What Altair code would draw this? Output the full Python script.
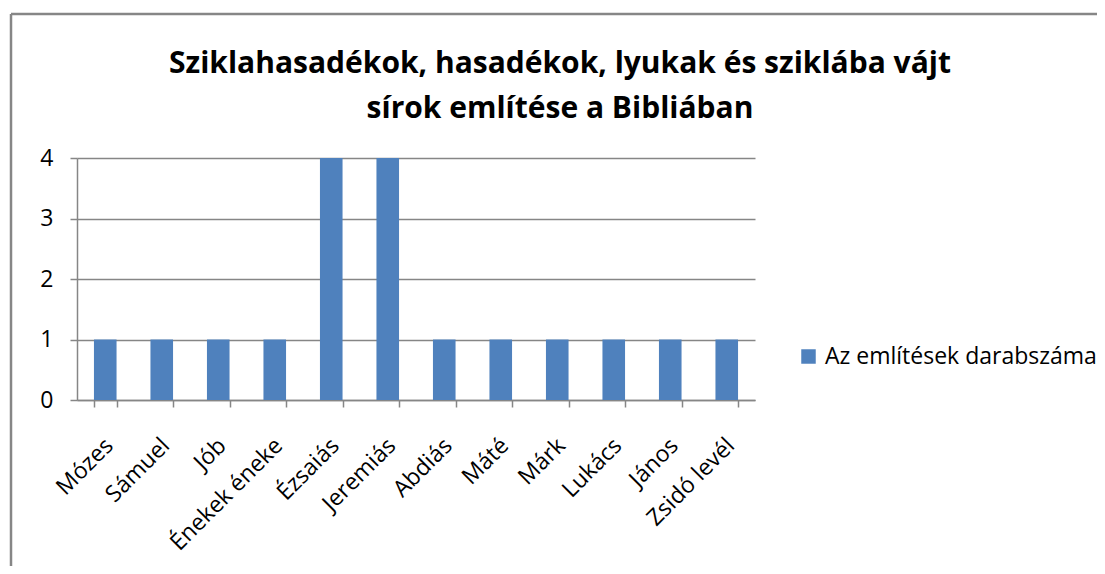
import altair as alt
import pandas as pd

books = ["Mózes", "Sámuel", "Jób", "Énekek éneke", "Ézsaiás", "Jeremiás",
         "Abdiás", "Máté", "Márk", "Lukács", "János", "Zsidó levél"]
counts = [1, 1, 1, 1, 4, 4, 1, 1, 1, 1, 1, 1]
series_name = "Az említések darabszáma"
title_lines = ["Sziklahasadékok, hasadékok, lyukak és sziklába vájt",
               "sírok említése a Bibliában"]
y_ticks = [0, 1, 2, 3, 4]

df = pd.DataFrame({"book": books, "count": counts,
                   "series": [series_name] * len(books)})

FONT = "Open Sans"
GRAY = "#868686"
BLUE = "#4F81BD"
LABEL_SIZE = 23

bars = alt.Chart(df).mark_bar().encode(
    x=alt.X("book:N", sort=books,
            scale=alt.Scale(paddingInner=0.6, paddingOuter=0.3),
            axis=alt.Axis(title=None, labelAngle=-45, labelAlign="right",
                          labelBaseline="top", tickBand="extent", tickSize=7,
                          tickColor=GRAY, tickWidth=1.5, domainColor=GRAY,
                          domainWidth=1.5, labelFont=FONT, labelFontSize=LABEL_SIZE,
                          labelColor="black", labelPadding=27, labelOffset=-4,
                          labelOverlap=False, labelLimit=400, grid=False)),
    y=alt.Y("count:Q", scale=alt.Scale(domain=[0, 4]),
            axis=alt.Axis(title=None, values=y_ticks, format="d", tickSize=7,
                          tickColor=GRAY, tickWidth=1.5, domainColor=GRAY,
                          domainWidth=1.5, gridColor=GRAY, gridWidth=1.5,
                          labelFont=FONT, labelFontSize=LABEL_SIZE, labelColor="black",
                          labelPadding=17)),
    color=alt.Color("series:N", scale=alt.Scale(range=[BLUE]),
                    legend=alt.Legend(title=None, orient="none", legendX=720,
                                      legendY=187, symbolType="square",
                                      symbolSize=210, symbolStrokeWidth=0,
                                      labelFont=FONT, labelFontSize=LABEL_SIZE,
                                      labelColor="black", labelOffset=5,
                                      labelLimit=400)),
)

frame_df = pd.DataFrame({"k": [0]})
left_border = alt.Chart(frame_df).mark_rule(color=GRAY, strokeWidth=2.5, clip=False).encode(
    x=alt.value(-66), y=alt.value(-144), y2=alt.value(420))
top_border = alt.Chart(frame_df).mark_rule(color=GRAY, strokeWidth=2.5, clip=False).encode(
    x=alt.value(-66), x2=alt.value(1030), y=alt.value(-144))

chart = alt.layer(bars, left_border, top_border).properties(
    width=678, height=242,
    title=alt.Title(text=title_lines, font=FONT, fontSize=30, fontWeight="bold",
                    color="black", anchor="middle", dx=144, offset=-111,
                    lineHeight=45),
    autosize=alt.AutoSizeParams(type="none"),
    padding={"left": 69, "top": 150, "right": 342, "bottom": 166},
).configure_view(stroke=None)

chart.save("out.html", embed_options={"renderer": "svg", "actions": False})
